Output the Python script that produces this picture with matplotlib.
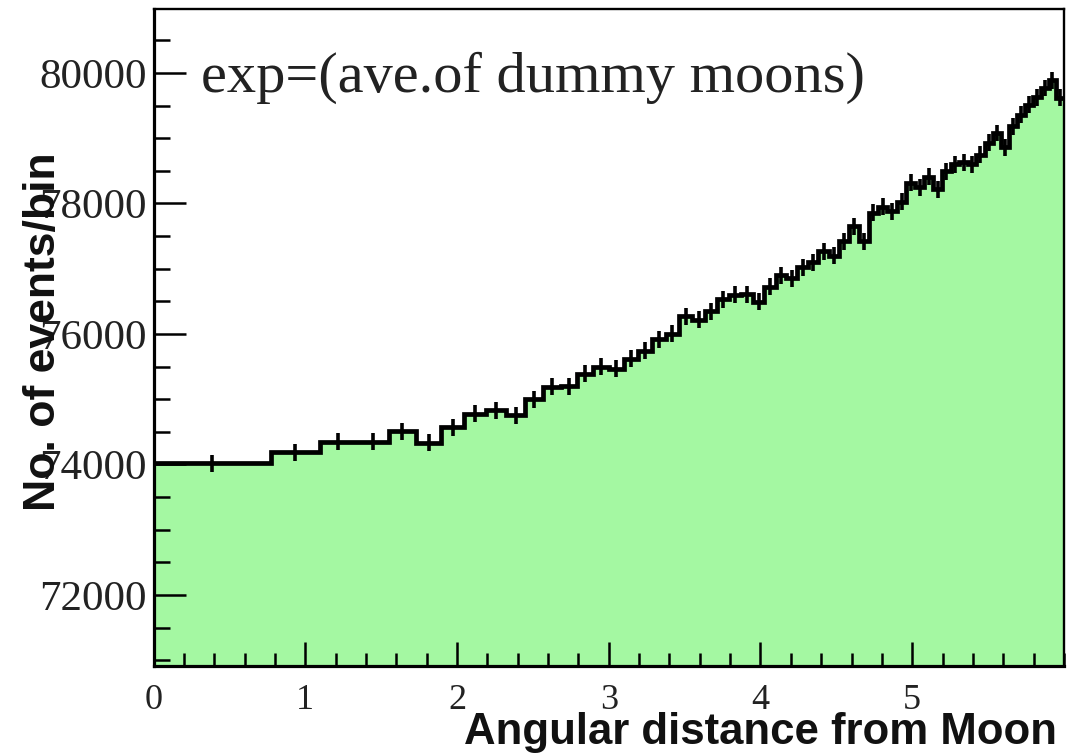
import matplotlib
matplotlib.use("Agg")
import matplotlib.pyplot as plt
import numpy as np
from matplotlib.ticker import MultipleLocator

# Bin edges (equal solid-angle bins, degrees)
bin_edges = [0.000, 0.775, 1.095, 1.342, 1.549, 1.732, 1.897, 2.049, 2.191, 2.324,
             2.449, 2.569, 2.683, 2.793, 2.898, 3.000, 3.098, 3.194, 3.286, 3.376,
             3.464, 3.550, 3.633, 3.715, 3.795, 3.873, 3.950, 4.025, 4.099, 4.171,
             4.243, 4.313, 4.382, 4.450, 4.517, 4.583, 4.648, 4.712, 4.775, 4.837,
             4.899, 4.960, 5.020, 5.079, 5.138, 5.196, 5.254, 5.310, 5.367, 5.422,
             5.477, 5.532, 5.586, 5.639, 5.692, 5.745, 5.797, 5.848, 5.899, 5.950,
             6.000]

# Events per bin
counts = [74020, 74190, 74350, 74350, 74510, 74330, 74570, 74780, 74830, 74750,
          75000, 75190, 75200, 75390, 75500, 75470, 75620, 75740, 75920, 76000,
          76270, 76220, 76350, 76530, 76600, 76610, 76490, 76720, 76900, 76850,
          77020, 77100, 77270, 77200, 77420, 77650, 77420, 77860, 77950, 77880,
          78030, 78320, 78250, 78410, 78220, 78490, 78600, 78630, 78600, 78750,
          78930, 79080, 78860, 79180, 79360, 79510, 79630, 79770, 79890, 79620]

bin_error = 130

x_ticks = [0, 1, 2, 3, 4, 5]
y_ticks = [72000, 74000, 76000, 78000, 80000]
x_label = "Angular distance from Moon"
y_label = "No. of events/bin"
annotation = "exp=(ave.of dummy moons)"

fig = plt.figure(figsize=(10.86, 7.54), dpi=100)
ax = fig.add_axes([0.1414, 0.1167, 0.8383, 0.8713])

ymin, ymax = 70910, 80980
edges = np.array(bin_edges)
vals = np.array(counts)
centers = 0.5 * (edges[:-1] + edges[1:])

ax.stairs(vals, edges, fill=True, baseline=ymin, color="#a4f8a2", zorder=1)
ax.stairs(vals, edges, baseline=None, color="black", linewidth=3.4, zorder=3)
ax.errorbar(centers, vals, yerr=bin_error, fmt="none", ecolor="black",
            elinewidth=2.6, capsize=0, zorder=3)

ax.set_xlim(0, 6)
ax.set_ylim(ymin, ymax)
ax.set_xticks(x_ticks)
ax.set_yticks(y_ticks)
ax.xaxis.set_minor_locator(MultipleLocator(0.2))
ax.yaxis.set_minor_locator(MultipleLocator(500))

serif = ["Liberation Serif", "DejaVu Serif"]
ax.set_xticklabels([str(t) for t in x_ticks], fontfamily=serif, fontsize=26, color="#222222")
ax.set_yticklabels([str(t) for t in y_ticks], fontfamily=serif, fontsize=31, color="#222222")

ax.tick_params(axis="both", which="both", direction="in", top=False, right=False,
               width=1.8, color="black")
ax.tick_params(axis="y", which="major", length=23, pad=5)
ax.tick_params(axis="y", which="minor", length=11.5)
ax.tick_params(axis="x", which="major", length=17, pad=13)
ax.tick_params(axis="x", which="minor", length=9.5)

for side in ["left", "bottom"]:
    ax.spines[side].set_linewidth(2.3)
for side in ["top", "right"]:
    ax.spines[side].set_linewidth(1.7)

ax.text(0.052, 0.896, annotation, transform=ax.transAxes, fontfamily=serif,
        fontsize=42, color="#222222", ha="left", va="center", zorder=5)

fig.text(0.9735, 0.0135, x_label, fontfamily=["Liberation Sans", "DejaVu Sans"],
         fontweight="bold", fontsize=31.5, ha="right", va="baseline", color="#111111")
fig.text(0.040, 0.560, y_label, fontfamily=["Liberation Sans", "DejaVu Sans"],
         fontweight="bold", fontsize=32, rotation=90, ha="center", va="center",
         color="#111111")

fig.savefig("out.png", dpi=100)
